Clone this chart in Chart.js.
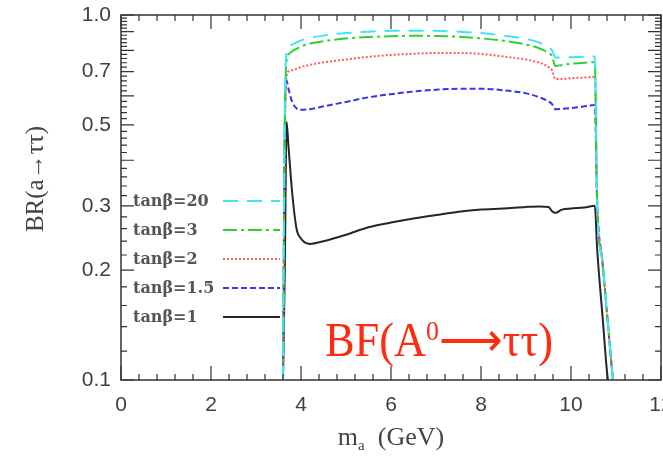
<!DOCTYPE html>
<html>
<head>
<meta charset="utf-8">
<script src="https://cdn.jsdelivr.net/npm/chart.js@4.4.0/dist/chart.umd.min.js"></script>
<style>
  html, body { margin: 0; padding: 0; background: #fff; }
  #wrap { width: 663px; height: 456px; }
</style>
</head>
<body>
<div id="wrap"><canvas id="brChart" width="663" height="456"></canvas></div>
<script>
// m_a grid (GeV) shared by all curves
var mass = [3.60, 3.64, 3.68, 3.72, 3.80, 3.90, 4.00, 4.20, 4.50, 5.00, 5.50, 6.00, 6.50, 7.00, 7.50,
            8.00, 8.50, 9.00, 9.30, 9.50, 9.58, 9.65, 9.80, 10.00, 10.30, 10.53, 10.58, 10.70, 10.82, 10.93];

var brTan20  = [0.10, 0.55, 0.79, 0.815, 0.83, 0.84, 0.852, 0.865, 0.878, 0.892, 0.900, 0.905, 0.906, 0.905, 0.900,
                0.892, 0.878, 0.860, 0.840, 0.815, 0.800, 0.765, 0.765, 0.766, 0.768, 0.770, 0.31, 0.21, 0.143, 0.10];
var brTan3   = [0.10, 0.50, 0.75, 0.78, 0.795, 0.808, 0.820, 0.835, 0.848, 0.862, 0.870, 0.875, 0.877, 0.876, 0.872,
                0.863, 0.850, 0.830, 0.810, 0.787, 0.770, 0.725, 0.730, 0.735, 0.740, 0.742, 0.31, 0.21, 0.143, 0.10];
var brTan2   = [0.10, 0.45, 0.68, 0.70, 0.706, 0.712, 0.720, 0.730, 0.742, 0.755, 0.768, 0.777, 0.783, 0.787, 0.787,
                0.782, 0.770, 0.755, 0.740, 0.720, 0.705, 0.668, 0.668, 0.671, 0.674, 0.677, 0.31, 0.21, 0.143, 0.10];
var brTan15  = [0.10, 0.50, 0.66, 0.63, 0.58, 0.555, 0.550, 0.552, 0.562, 0.578, 0.595, 0.607, 0.617, 0.624, 0.628,
                0.628, 0.622, 0.610, 0.595, 0.580, 0.570, 0.552, 0.553, 0.556, 0.562, 0.567, 0.31, 0.21, 0.143, 0.10];
var brTan1   = [0.10, 0.20, 0.51, 0.44, 0.33, 0.26, 0.244, 0.236, 0.240, 0.250, 0.262, 0.270, 0.277, 0.283, 0.289,
                0.293, 0.295, 0.298, 0.299, 0.298, 0.290, 0.287, 0.293, 0.295, 0.297, 0.300, 0.23, 0.15, 0.10, 0.09];

var legendLabels = ['tan\u03b2=20', 'tan\u03b2=3', 'tan\u03b2=2', 'tan\u03b2=1.5', 'tan\u03b2=1'];
var yTickValues = [0.1, 0.2, 0.3, 0.5, 0.7, 1.0];
var yTickLabels = ['0.1', '0.2', '0.3', '0.5', '0.7', '1.0'];
var xTickLabels = ['0', '2', '4', '6', '8', '10', '12'];

function pts(ys) {
    return mass.map(function (m, i) { return { x: m, y: ys[i] }; });
}

// inward frame ticks, legend, titles, annotation
var decorPlugin = {
    id: 'decor',
    afterDraw: function (chart) {
        var c = chart.ctx, a = chart.chartArea;
        var xs = chart.scales.x, ys = chart.scales.y;
        c.save();
        c.strokeStyle = '#333';
        c.lineWidth = 1.5;
        c.strokeRect(a.left, a.top, a.right - a.left, a.bottom - a.top);

        c.lineWidth = 1.2;
        c.beginPath();
        for (var k = 0; k <= 30; k++) {
            var xv = k * 0.4;
            var px = xs.getPixelForValue(xv);
            var len = (k % 5 === 0) ? 14 : 6;
            c.moveTo(px, a.bottom); c.lineTo(px, a.bottom - len);
            c.moveTo(px, a.top); c.lineTo(px, a.top + len);
        }
        for (var j = 0; j <= 45; j++) {
            var yv = 0.1 + j * 0.02;
            var py = ys.getPixelForValue(yv);
            var ylen = (j % 5 === 0) ? 13 : 6;
            c.moveTo(a.left, py); c.lineTo(a.left + ylen, py);
            c.moveTo(a.right, py); c.lineTo(a.right - ylen, py);
        }
        c.stroke();

        // legend
        c.font = 'bold 16px "DejaVu Serif"';
        c.fillStyle = '#555';
        c.textBaseline = 'middle';
        c.textAlign = 'left';
        chart.data.datasets.forEach(function (ds, i) {
            var y = 201 + i * 29;
            c.fillText(legendLabels[i], 133, y + 1);
            c.save();
            c.strokeStyle = ds.borderColor;
            c.lineWidth = ds.borderWidth;
            c.setLineDash(ds.borderDash || []);
            c.beginPath();
            c.moveTo(223, y); c.lineTo(280, y);
            c.stroke();
            c.restore();
        });

        // y title
        c.save();
        c.translate(36, 179);
        c.rotate(-Math.PI / 2);
        c.font = '25px "Liberation Serif"';
        c.fillStyle = '#444';
        c.textAlign = 'center';
        c.textBaseline = 'middle';
        c.fillText('BR(a\u2192\u03c4\u03c4)', 0, 0);
        c.restore();

        // x title  m_a (GeV)
        c.font = '26px "Liberation Serif"';
        c.fillStyle = '#444';
        c.textBaseline = 'alphabetic';
        var w1 = c.measureText('m').width;
        c.font = '15px "Liberation Serif"';
        var w2 = c.measureText('a').width;
        c.font = '26px "Liberation Serif"';
        var w3 = c.measureText('  (GeV)').width;
        var x0 = 391 - (w1 + w2 + w3) / 2;
        c.fillText('m', x0, 445);
        c.font = '15px "Liberation Serif"';
        c.fillText('a', x0 + w1, 450);
        c.font = '26px "Liberation Serif"';
        c.fillText('  (GeV)', x0 + w1 + w2, 445);

        // red annotation
        c.save();
        c.fillStyle = '#ff2a10';
        var big = '48px "Liberation Serif"', small = '28px "Liberation Serif"';
        var parts = [['BF(A', big, 0], ['0', small, -16], ['\u27f6', big, 0], ['\u03c4\u03c4)', big, 0]];
        var total = 0;
        parts.forEach(function (p) { c.font = p[1]; p.push(c.measureText(p[0]).width); total += p[3]; });
        var sx = 228 / total;
        c.translate(325, 356);
        c.scale(sx, 1);
        var cx = 0;
        parts.forEach(function (p) {
            c.font = p[1];
            c.fillText(p[0], cx, p[2]);
            cx += p[3];
        });
        c.restore();
        c.restore();
    }
};

var ctx = document.getElementById('brChart').getContext('2d');
var brChart = new Chart(ctx, {
    type: 'line',
    data: {
        datasets: [
            { label: legendLabels[0], data: pts(brTan20), borderColor: '#3ee6f5', borderWidth: 2, borderDash: [15, 9] },
            { label: legendLabels[1], data: pts(brTan3), borderColor: '#2fd12f', borderWidth: 2, borderDash: [14, 4, 3, 4] },
            { label: legendLabels[2], data: pts(brTan2), borderColor: '#ff5a5a', borderWidth: 2, borderDash: [2, 2] },
            { label: legendLabels[3], data: pts(brTan15), borderColor: '#3535ee', borderWidth: 2, borderDash: [6, 3] },
            { label: legendLabels[4], data: pts(brTan1), borderColor: '#262626', borderWidth: 2 }
        ]
    },
    options: {
        responsive: false,
        animation: false,
        devicePixelRatio: 1,
        layout: { padding: { top: 15, right: 2, left: 0, bottom: 0 } },
        elements: {
            point: { radius: 0 },
            line: { cubicInterpolationMode: 'monotone', fill: false }
        },
        plugins: {
            legend: { display: false },
            tooltip: { enabled: false }
        },
        scales: {
            x: {
                type: 'linear',
                min: 0,
                max: 12,
                grid: { display: false, drawTicks: false },
                border: { display: false },
                ticks: {
                    stepSize: 2,
                    padding: 13,
                    color: '#404040',
                    font: { family: '"Liberation Sans"', size: 21 },
                    callback: function (v) { return xTickLabels[Math.round(v / 2)]; }
                },
                afterFit: function (s) { s.height = 76; s.paddingLeft = 0; s.paddingRight = 0; }
            },
            y: {
                type: 'logarithmic',
                min: 0.1,
                max: 1.0,
                grid: { display: false, drawTicks: false },
                border: { display: false },
                afterBuildTicks: function (s) {
                    s.ticks = yTickValues.map(function (v) { return { value: v }; });
                },
                ticks: {
                    padding: 10,
                    color: '#404040',
                    font: { family: '"Liberation Sans"', size: 21 },
                    callback: function (v) {
                        var i = yTickValues.indexOf(v);
                        return i >= 0 ? yTickLabels[i] : '';
                    }
                },
                afterFit: function (s) { s.width = 121; s.paddingTop = 0; s.paddingBottom = 0; }
            }
        }
    },
    plugins: [decorPlugin]
});
</script>
</body>
</html>
